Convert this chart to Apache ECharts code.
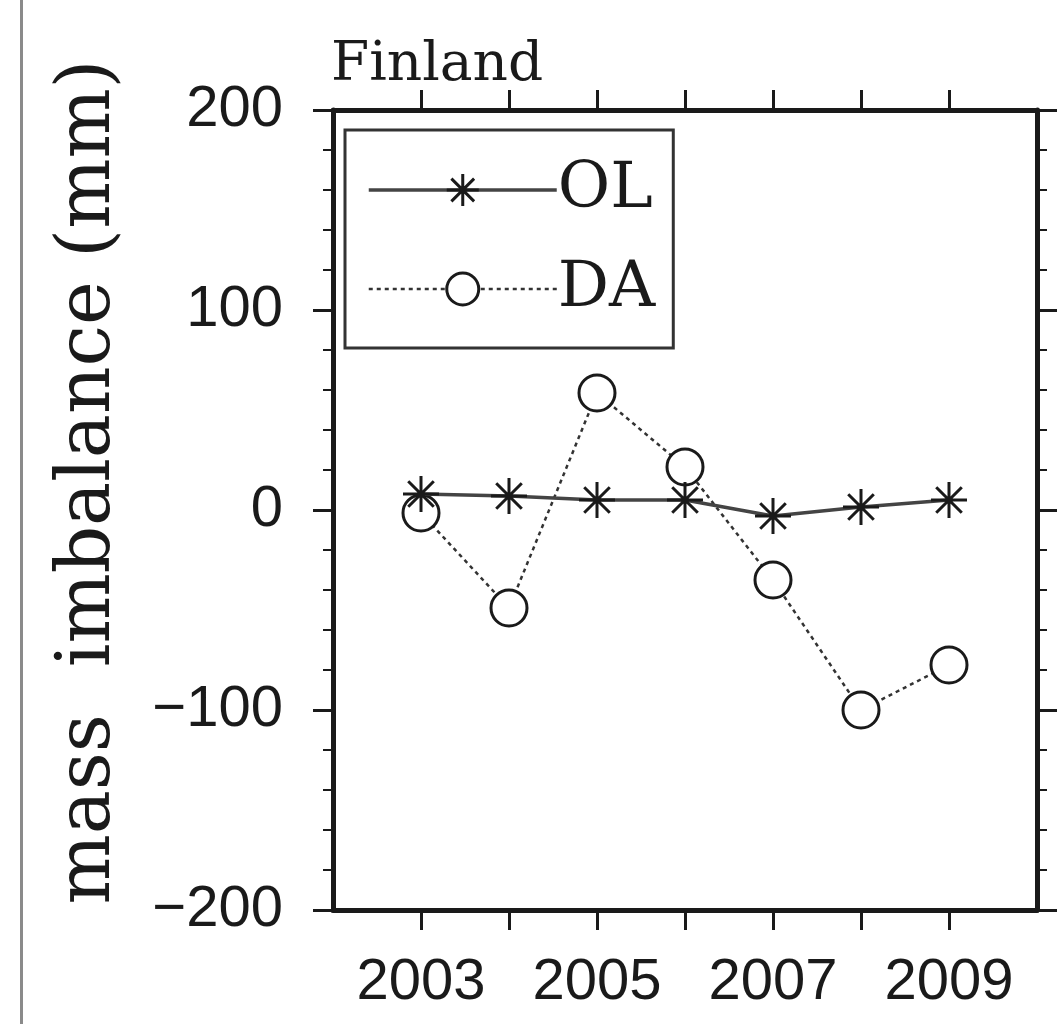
<!DOCTYPE html>
<html>
<head>
<meta charset="utf-8">
<script src="https://cdn.jsdelivr.net/npm/echarts@6/dist/echarts.min.js"></script>
<style>
html,body{margin:0;padding:0;background:#fff;}
#chart{width:1059px;height:1024px;}
</style>
</head>
<body>
<div id="chart"></div>
<script>
// ---- data ----
const years = [2003, 2004, 2005, 2006, 2007, 2008, 2009];
const olValues = [8, 7, 5, 5, -3, 1.5, 5];
const daValues = [-1.5, -49, 58.5, 21.5, -35, -100, -77.5];
const xTickValues = [2003, 2004, 2005, 2006, 2007, 2008, 2009];
const xLabelValues = [2003, 2005, 2007, 2009];
const seriesNames = ['OL', 'DA'];
const panelTitle = 'Finland';
const yAxisTitle = 'mass  imbalance (mm)';

const ink = '#1a1a1a';
const asterisk = 'path://M0,-10L0,10M-10,0L10,0M-7.1,-7.1L7.1,7.1M-7.1,7.1L7.1,-7.1';

const chart = echarts.init(document.getElementById('chart'), null, {renderer: 'canvas'});

const axisLine = {show: true, onZero: false, lineStyle: {color: ink, width: 5}};
const sansLabel = {fontFamily: 'Liberation Sans', fontSize: 58, color: ink};

const olLine = {color: '#444', width: 3.5, type: 'solid'};
const daLine = {color: '#333', width: 2.5, type: [4, 4]};
const olItem = {color: 'none', borderColor: ink, borderWidth: 3};
const daItem = {color: '#fff', borderColor: ink, borderWidth: 3};

const option = {
  animation: false,
  backgroundColor: '#fff',
  title: {
    text: panelTitle,
    left: 331,
    top: 38,
    padding: 0,
    textStyle: {fontFamily: 'DejaVu Serif', fontSize: 55, fontWeight: 'normal', color: ink}
  },
  graphic: [
    {type: 'rect', left: 20, top: 0, shape: {width: 3, height: 1024}, style: {fill: '#8a8a8a'}},
    {
      type: 'text', x: 90, y: 482, rotation: Math.PI / 2,
      style: {text: yAxisTitle, fontFamily: 'DejaVu Serif', fontSize: 74, fill: ink,
        textAlign: 'center', textVerticalAlign: 'middle'}
    }
  ],
  legend: {
    orient: 'vertical',
    left: 345,
    top: 130,
    padding: [28, 18, 27, 22],
    borderColor: '#333',
    borderWidth: 3,
    itemWidth: 188,
    itemHeight: 40,
    itemGap: 35,
    data: [
      {name: seriesNames[0], lineStyle: olLine, itemStyle: olItem},
      {name: seriesNames[1], lineStyle: daLine, itemStyle: daItem}
    ],
    textStyle: {fontFamily: 'DejaVu Serif', fontSize: 64, lineHeight: 60, color: ink, padding: [0, 0, 0, -4]}
  },
  grid: {left: 333, right: 22, top: 110, bottom: 114, containLabel: false},
  xAxis: [
    {
      type: 'value', min: 2002, max: 2010, interval: 1, position: 'bottom',
      axisLine: axisLine,
      axisTick: {show: true, length: 20, lineStyle: {color: ink, width: 3}, customValues: xTickValues},
      axisLabel: Object.assign({margin: 44, customValues: xLabelValues, formatter: v => String(v)}, sansLabel),
      splitLine: {show: false}
    },
    {
      type: 'value', min: 2002, max: 2010, interval: 1, position: 'top',
      axisLine: axisLine,
      axisTick: {show: true, length: 20, lineStyle: {color: ink, width: 3}, customValues: xTickValues},
      axisLabel: {show: false},
      splitLine: {show: false}
    }
  ],
  yAxis: [
    {
      type: 'value', min: -200, max: 200, interval: 100, position: 'left',
      axisLine: axisLine,
      axisTick: {show: true, length: 20, lineStyle: {color: ink, width: 3}},
      minorTick: {show: true, splitNumber: 5, length: 10, lineStyle: {color: ink, width: 2}},
      axisLabel: Object.assign({margin: 50, formatter: v => (v < 0 ? '\u2212' + Math.abs(v) : String(v))}, sansLabel),
      splitLine: {show: false},
      minorSplitLine: {show: false}
    },
    {
      type: 'value', min: -200, max: 200, interval: 100, position: 'right',
      axisLine: axisLine,
      axisTick: {show: true, length: 20, lineStyle: {color: ink, width: 3}},
      minorTick: {show: true, splitNumber: 5, length: 10, lineStyle: {color: ink, width: 2}},
      axisLabel: {show: false},
      splitLine: {show: false},
      minorSplitLine: {show: false}
    }
  ],
  series: [
    {
      name: 'DA', type: 'line', xAxisIndex: 0, yAxisIndex: 0,
      data: years.map((y, i) => [y, daValues[i]]),
      symbol: 'circle', symbolSize: 36,
      lineStyle: daLine,
      itemStyle: daItem,
      z: 2
    },
    {
      name: 'OL', type: 'line', xAxisIndex: 0, yAxisIndex: 0,
      data: years.map((y, i) => [y, olValues[i]]),
      symbol: asterisk, symbolSize: 36,
      lineStyle: olLine,
      itemStyle: olItem,
      z: 3
    }
  ]
};
chart.setOption(option);
</script>
</body>
</html>
